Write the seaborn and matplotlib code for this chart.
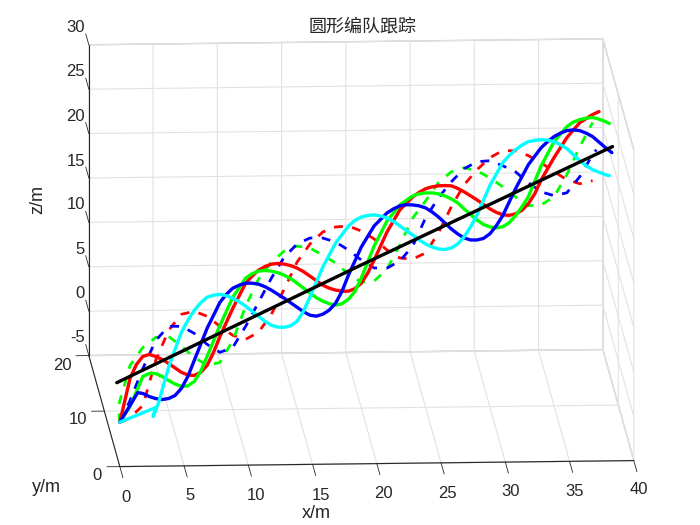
import matplotlib
matplotlib.use("Agg")
import matplotlib.pyplot as plt
import seaborn as sns

# tick labels
x_ticks = [0, 5, 10, 15, 20, 25, 30, 35, 40]
y_ticks = [0, 10, 20]
z_ticks = [-5, 0, 5, 10, 15, 20, 25, 30]

# sampled x positions shared by the trajectories
x_grid = [2, 3, 4, 5, 6, 7, 8, 9, 10, 11, 12, 13, 14, 15, 16, 17, 18, 19, 20,
          21, 22, 23, 24, 25, 26, 27, 28, 29, 30, 31, 32, 33, 34, 35, 36, 37, 38]
y_plane = 10

# leader
x_leader = [0.97, 20.0, 39.55]
z_leader = [-1.82, 11.12, 24.12]

# tracked trajectories (solid)
x_red = [0] + x_grid + [38.5]
z_red = [0, -1.35, 1.11, 1.08, 0.28, -0.74, -1.11, 0.01, 3.26, 6.41, 9.22, 10.67, 11.33, 11.31,
         10.85, 9.93, 8.89, 8.32, 8.18, 9.07, 11.66, 14.80, 17.27, 18.71, 19.61, 19.93, 19.91,
         19.22, 18.30, 17.27, 16.58, 16.67, 17.79, 20.47, 22.95, 25.19, 26.86, 27.75, 28.08]
x_red_more = [2.5, 3.5, 4.5, 6.5, 7.5, 8.5, 11.5, 12.5, 13.5, 14.5, 15.5, 17.5, 18.5, 19.5, 20.5,
              24.5, 25.5, 26.5, 27.5, 30.5, 31.5, 32.5, 33.5]
z_red_more = [0.21, 1.32, 0.74, -1.04, -0.77, 1.47, 10.00, 11.06, 11.40, 11.14, 10.44, 8.55, 8.19,
              8.46, 10.19, 19.22, 19.82, 19.95, 19.62, 16.87, 16.51, 17.06, 18.91]

x_green = [0] + x_grid + [39, 39.3]
z_green = [0, -4.51, -1.15, -0.84, -1.64, -2.33, -1.78, 1.03, 4.50, 7.65, 9.79, 10.55, 10.54,
           10.07, 9.15, 8.01, 7.09, 6.63, 7.28, 9.64, 13.24, 16.04, 17.83, 18.83, 19.15, 19.03,
           18.44, 17.30, 16.04, 15.24, 15.23, 16.45, 18.58, 22.05, 24.75, 26.43, 27.20, 27.42,
           26.94, 26.72]
x_green_more = [3.5, 4.5, 5.5, 6.5, 7.5, 11.5, 12.5, 13.5, 14.5, 16.5, 17.5, 18.5, 19.5, 24.5,
                25.5, 26.5, 27.5, 29.5, 30.5, 31.5, 32.5, 36.5, 37.5, 38.5]
z_green_more = [-0.82, -1.18, -2.04, -2.28, -0.66, 10.28, 10.63, 10.36, 9.67, 7.49, 6.80, 6.78,
                8.13, 19.05, 19.14, 18.79, 17.99, 15.52, 15.12, 15.67, 17.45, 26.93, 27.36, 27.23]

x_blue = [0, 2, 2.6] + x_grid[1:] + [39, 39.5]
z_blue = [0, -4.40, -2.96, -3.07, -3.66, -3.67, -2.55, 0.59, 4.19, 7.10, 8.67, 9.22, 9.09, 8.40,
          7.47, 6.44, 5.53, 5.62, 6.85, 9.99, 13.14, 15.50, 16.94, 17.72, 17.81, 17.46, 16.43,
          15.06, 14.03, 13.78, 14.45, 16.47, 19.49, 22.19, 24.09, 25.32, 25.98, 25.96, 25.27,
          24.01, 23.44]
x_blue_more = [3.5, 4.5, 5.5, 6.5, 9.5, 10.5, 11.5, 12.5, 13.5, 15.5, 16.5, 17.5, 18.5, 22.5, 23.5,
               24.5, 25.5, 27.5, 28.5, 29.5, 30.5, 34.5, 35.5, 36.5, 37.5]
z_blue_more = [-3.42, -3.78, -3.34, -1.21, 8.00, 9.00, 9.21, 8.80, 7.93, 5.93, 5.41, 6.07, 8.19,
               17.39, 17.84, 17.70, 17.00, 14.49, 13.79, 13.94, 15.34, 24.76, 25.70, 26.05, 25.67]

x_cyan = [0, 4, 3.8, 4.2] + x_grid[3:] + [39, 39.3]
z_cyan = [0, -4.67, -5.68, -4.22, -0.17, 3.77, 6.23, 7.69, 8.00, 7.54, 6.63, 5.47, 4.45, 4.20,
          4.86, 7.56, 10.93, 13.62, 15.52, 16.52, 16.74, 16.38, 15.46, 14.42, 13.40, 12.82,
          12.91, 14.14, 16.60, 19.87, 22.45, 23.89, 24.79, 24.99, 24.75, 23.95, 22.57, 21.55,
          20.96, 20.85]
x_cyan_more = [5.5, 6.5, 7.5, 8.5, 9.5, 10.5, 12.5, 13.5, 14.5, 15.5, 19.5, 20.5, 21.5, 22.5, 24.5,
               25.5, 26.5, 27.5, 28.5, 31.5, 32.5, 33.5, 34.5, 35.5, 36.5, 37.5]
z_cyan_more = [1.85, 5.11, 7.07, 7.90, 7.83, 7.13, 4.90, 4.23, 4.37, 5.98, 16.14, 16.68, 16.61,
               15.98, 13.86, 13.05, 12.75, 13.36, 15.26, 23.23, 24.40, 24.92, 24.93, 24.40, 23.26,
               22.00]

# reference trajectories (dashed)
x_red_ref = [0, 1.6] + x_grid
z_red_ref = [0, -6.10, -5.76, -4.42, 0.63, 4.01, 5.80, 6.12, 5.54, 4.39, 3.36, 2.90, 3.67, 5.69,
             8.49, 11.52, 13.54, 14.88, 15.43, 15.52, 14.94, 14.03, 12.77, 11.85, 11.72, 12.38,
             14.63, 17.54, 20.01, 21.68, 23.03, 23.80, 23.78, 23.21, 22.39, 21.37, 20.45, 19.98,
             20.31]

x_green_ref = [0, 1.1, 1.4] + x_grid
z_green_ref = [0, -4.40, -2.93, 0.11, 2.12, 3.23, 3.33, 2.19, 0.93, 0.01, 0.33, 2.80, 6.63, 9.65,
               11.56, 12.78, 13.33, 13.09, 12.28, 11.37, 10.10, 9.19, 9.29, 10.62, 13.32, 16.34,
               18.25, 20.27, 21.49, 21.93, 21.57, 20.77, 19.74, 18.59, 17.56, 17.65, 18.54,
               21.02, 24.15, 26.85]

x_blue_ref = [0] + x_grid + [38.3]
z_blue_ref = [0, -3.84, -0.25, 2.89, 4.46, 4.45, 3.63, 2.38, 1.46, 2.01, 4.37, 7.05, 9.75, 12.10,
              13.56, 14.22, 14.20, 13.74, 12.81, 11.67, 10.76, 10.73, 11.51, 13.18, 16.33, 18.58,
              20.36, 21.82, 22.59, 22.69, 22.11, 21.41, 20.16, 19.12, 18.66, 18.98, 20.77, 23.24,
              23.79]


def y_for(xs):
    # trajectories leave the origin, then stay on the formation plane
    return [0] + [y_plane] * (len(xs) - 1)


def with_extra(xs, zs, x_more, z_more, head):
    # first head points keep their order (the start is not monotonic in x)
    rest = sorted(zip(xs[head:] + x_more, zs[head:] + z_more))
    return xs[:head] + [p[0] for p in rest], zs[:head] + [p[1] for p in rest]


sns.set_style("white")
plt.rcParams["font.family"] = ["Liberation Sans", "Noto Sans CJK SC", "DejaVu Sans"]
text_color = "#262626"

fig = plt.figure(figsize=(7, 5.25), dpi=100)
ax = fig.add_axes([(-37 - 12.5) / 700, (-127.5 - 11) / 525, 800 / 700, 800 / 525],
                  projection="3d", computed_zorder=False)
ax.set_proj_type("ortho")
ax.view_init(elev=11.8, azim=-93.27)
ax.set_box_aspect((514, 543, 317), zoom=0.987)

ax.set_xticks(x_ticks)
ax.set_yticks(y_ticks)
ax.set_zticks(z_ticks)
ax.set_xticklabels([])
ax.set_yticklabels([])
ax.set_zticklabels([])
ax.patch.set_alpha(0)

for axis in (ax.xaxis, ax.yaxis, ax.zaxis):
    axis.set_pane_color((1, 1, 1, 1))
    axis.pane.set_edgecolor("#c4c4c4")
    axis.line.set_color(text_color)
    axis.line.set_linewidth(0.8)
    axis._axinfo["grid"]["color"] = "#e2e2e2"
    axis._axinfo["grid"]["linewidth"] = 0.8
    axis._axinfo["tick"]["inward_factor"] = 0.0
    axis._axinfo["tick"]["outward_factor"] = 0.0

# MATLAB style ticks along the box edges
for value in x_ticks:
    ax.plot([value, value], [0, -2], [-5, -5], color=text_color, lw=0.6, clip_on=False)
for value in y_ticks:
    ax.plot([0, -1], [value, value], [-5, -5], color=text_color, lw=0.6, clip_on=False)
for value in z_ticks:
    ax.plot([0, 0], [20, 22], [value, value], color=text_color, lw=0.6, clip_on=False)

for xs, zs, color in [(x_red_ref, z_red_ref, "#ff0000"),
                      (x_green_ref, z_green_ref, "#00ff00"),
                      (x_blue_ref, z_blue_ref, "#0000ff")]:
    ax.plot(xs, y_for(xs), zs, color=color, lw=2.0, ls=(0, (3.2, 3.4)))

for xs, zs, more_x, more_z, head, color in [(x_red, z_red, x_red_more, z_red_more, 1, "#ff0000"),
                                            (x_green, z_green, x_green_more, z_green_more, 1, "#00ff00"),
                                            (x_blue, z_blue, x_blue_more, z_blue_more, 3, "#0000ff"),
                                            (x_cyan, z_cyan, x_cyan_more, z_cyan_more, 4, "#00ffff")]:
    line_x, line_z = with_extra(xs, zs, more_x, more_z, head)
    ax.plot(line_x, y_for(line_x), line_z, color=color, lw=2.4, solid_joinstyle="round")

ax.plot(x_leader, [y_plane] * len(x_leader), z_leader, color="black", lw=2.4)

ax.set_xlim(0, 40)
ax.set_ylim(0, 20)
ax.set_zlim(-5, 30)


def put(px, py, text, ha="center", **kw):
    fig.text(px / 700, 1 - py / 525, text, color=text_color, ha=ha, va="center", **kw)


for value, px, py in zip(x_ticks, [126, 190, 256, 321, 383, 447, 511, 575, 639],
                         [497, 496, 495, 495, 493, 493, 492, 491, 490]):
    put(px, py, str(value), fontsize=12)
for value, px, py in zip(y_ticks, [97, 78, 62], [476, 420, 366]):
    put(px, py, str(value), fontsize=12)
for value, py in zip(z_ticks, [338, 294, 249, 205, 161, 116, 72, 28]):
    put(85, py, str(value), ha="right", fontsize=12)

put(316, 513, "x/m", fontsize=13)
put(46.5, 487, "y/m", fontsize=13)
put(38, 200, "z/m", fontsize=13, rotation=90)
put(363, 26, "圆形编队跟踪", fontsize=13, family=["Noto Sans CJK SC", "DejaVu Sans"])

fig.savefig("out.png", dpi=100)
